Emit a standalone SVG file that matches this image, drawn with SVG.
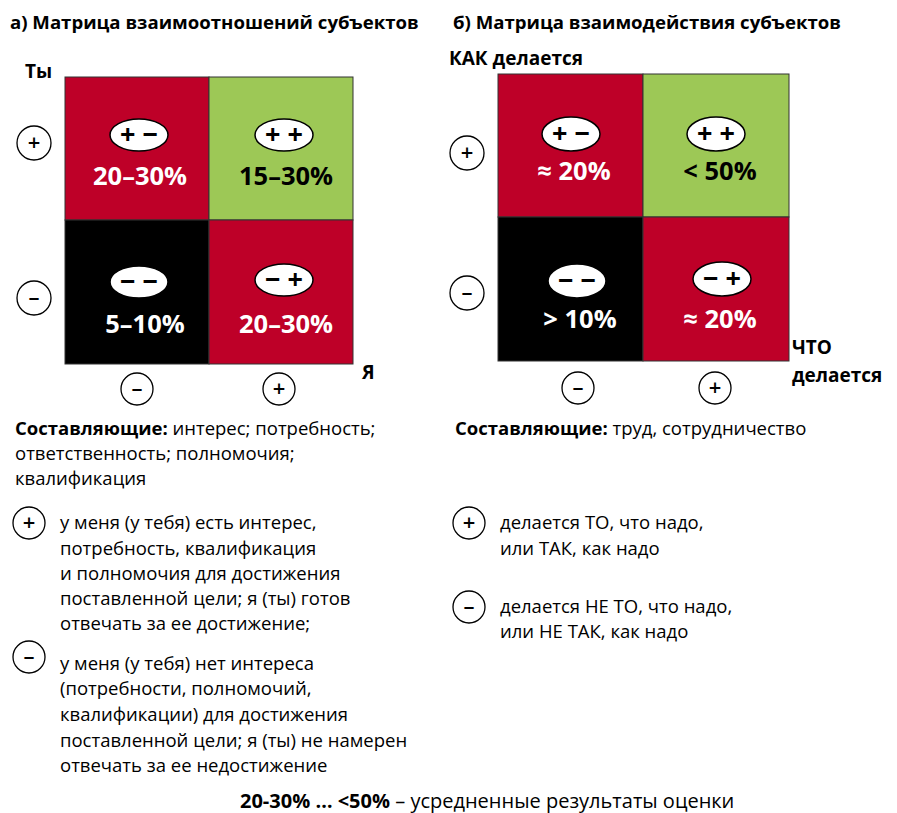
<svg xmlns="http://www.w3.org/2000/svg" width="897" height="813" viewBox="0 0 897 813">
<style>
text{font-family:"Open Sans","Noto Sans","DejaVu Sans",sans-serif;fill:#000}
.t{font-size:18.6px;font-weight:bold}
.ax{font-size:19px;font-weight:bold}
.red{fill:#BE0028;stroke:#333;stroke-width:1}
.grn{fill:#9DC856;stroke:#333;stroke-width:1}
.blk{fill:#000;stroke:#333;stroke-width:1}
.ell{fill:#fff;stroke:#000;stroke-width:1.5}
.sg{font-size:27px;font-weight:bold;text-anchor:middle}
.pc{font-size:25.5px;font-weight:bold;text-anchor:middle}
.w{fill:#fff}
.c{fill:#fff;stroke:#000;stroke-width:1.3}
.cs{font-size:22px;font-weight:600;text-anchor:middle}
.b{font-size:18.5px}
.bb{font-weight:bold}
.ft{font-size:20px}
</style>

<text class="t" x="10" y="29">а) Матрица взаимоотношений субъектов</text>
<text class="t" x="453" y="29">б) Матрица взаимодействия субъектов</text>

<g id="matrixA">
  <text class="ax" x="25" y="78">Ты</text>
  <g id="a-pm">
    <rect class="red" x="65" y="77" width="144" height="143"/>
    <ellipse class="ell" cx="139" cy="135" rx="29" ry="16"/>
    <text class="sg" x="139" y="144">+ −</text>
    <text class="pc w" x="140" y="185">20–30%</text>
  </g>
  <g id="a-pp">
    <rect class="grn" x="209" y="77" width="144" height="143"/>
    <ellipse class="ell" cx="284" cy="135" rx="29" ry="16"/>
    <text class="sg" x="284" y="144">+ +</text>
    <text class="pc" x="286" y="185">15–30%</text>
  </g>
  <g id="a-mm">
    <rect class="blk" x="65" y="220" width="144" height="144"/>
    <ellipse class="ell" cx="139" cy="282" rx="29" ry="16"/>
    <text class="sg" x="139" y="291">− −</text>
    <text class="pc w" x="145" y="333">5–10%</text>
  </g>
  <g id="a-mp">
    <rect class="red" x="209" y="220" width="144" height="144"/>
    <ellipse class="ell" cx="284" cy="280" rx="29" ry="16"/>
    <text class="sg" x="284" y="289">− +</text>
    <text class="pc w" x="286" y="333">20–30%</text>
  </g>
  <g id="a-axis-y-plus"><circle class="c" cx="34" cy="143" r="17"/><text class="cs" x="34" y="150">+</text></g>
  <g id="a-axis-y-minus"><circle class="c" cx="34" cy="298" r="17"/><text class="cs" x="34" y="305">–</text></g>
  <g id="a-axis-x-minus"><circle class="c" cx="137" cy="389" r="16"/><text class="cs" x="137" y="396">–</text></g>
  <g id="a-axis-x-plus"><circle class="c" cx="279" cy="389" r="16"/><text class="cs" x="279" y="396">+</text></g>
  <text class="ax" x="362" y="379">Я</text>
</g>

<g id="matrixB">
  <text class="ax" x="449" y="65">КАК делается</text>
  <g id="b-pm">
    <rect class="red" x="498" y="74" width="145" height="143"/>
    <ellipse class="ell" cx="571" cy="134" rx="29" ry="17"/>
    <text class="sg" x="571" y="143">+ −</text>
    <text class="pc w" x="574" y="180">≈ 20%</text>
  </g>
  <g id="b-pp">
    <rect class="grn" x="643" y="74" width="146" height="143"/>
    <ellipse class="ell" cx="716" cy="134" rx="29" ry="17"/>
    <text class="sg" x="716" y="143">+ +</text>
    <text class="pc" x="720" y="180">&lt; 50%</text>
  </g>
  <g id="b-mm">
    <rect class="blk" x="498" y="217" width="145" height="144"/>
    <ellipse class="ell" cx="577" cy="281" rx="29" ry="17"/>
    <text class="sg" x="577" y="290">− −</text>
    <text class="pc w" x="580" y="328">&gt; 10%</text>
  </g>
  <g id="b-mp">
    <rect class="red" x="643" y="217" width="146" height="144"/>
    <ellipse class="ell" cx="722" cy="279" rx="29" ry="17"/>
    <text class="sg" x="722" y="288">− +</text>
    <text class="pc w" x="720" y="328">≈ 20%</text>
  </g>
  <g id="b-axis-y-plus"><circle class="c" cx="467" cy="153" r="17"/><text class="cs" x="467" y="160">+</text></g>
  <g id="b-axis-y-minus"><circle class="c" cx="467" cy="293" r="17"/><text class="cs" x="467" y="300">–</text></g>
  <g id="b-axis-x-minus"><circle class="c" cx="578" cy="388" r="16"/><text class="cs" x="578" y="395">–</text></g>
  <g id="b-axis-x-plus"><circle class="c" cx="715" cy="388" r="16"/><text class="cs" x="715" y="395">+</text></g>
  <text class="ax" x="792" y="354">ЧТО</text>
  <text class="ax" x="792" y="382">делается</text>
</g>

<g id="legendA">
  <text class="b" x="15" y="435"><tspan class="bb">Составляющие:</tspan> интерес; потребность;</text>
  <text class="b" x="15" y="460">ответственность; полномочия;</text>
  <text class="b" x="15" y="485">квалификация</text>
  <g id="legA-plus"><circle class="c" cx="29" cy="523" r="16"/><text class="cs" x="29" y="530">+</text></g>
  <text class="b" x="60" y="529">у меня (у тебя) есть интерес,</text>
  <text class="b" x="60" y="555">потребность, квалификация</text>
  <text class="b" x="60" y="580">и полномочия для достижения</text>
  <text class="b" x="60" y="605">поставленной цели; я (ты) готов</text>
  <text class="b" x="60" y="630">отвечать за ее достижение;</text>
  <g id="legA-minus"><circle class="c" cx="29" cy="657" r="16"/><text class="cs" x="29" y="664">–</text></g>
  <text class="b" x="60" y="670">у меня (у тебя) нет интереса</text>
  <text class="b" x="60" y="695">(потребности, полномочий,</text>
  <text class="b" x="60" y="721">квалификации) для достижения</text>
  <text class="b" x="60" y="747">поставленной цели; я (ты) не намерен</text>
  <text class="b" x="60" y="772">отвечать за ее недостижение</text>
</g>

<g id="legendB">
  <text class="b" x="455" y="435"><tspan class="bb">Составляющие:</tspan> труд, сотрудничество</text>
  <g id="legB-plus"><circle class="c" cx="469" cy="523" r="16"/><text class="cs" x="469" y="530">+</text></g>
  <text class="b" x="500" y="529">делается ТО, что надо,</text>
  <text class="b" x="500" y="555">или ТАК, как надо</text>
  <g id="legB-minus"><circle class="c" cx="469" cy="607" r="16"/><text class="cs" x="469" y="614">–</text></g>
  <text class="b" x="500" y="613">делается НЕ ТО, что надо,</text>
  <text class="b" x="500" y="638">или НЕ ТАК, как надо</text>
</g>

<text class="ft" x="240" y="808"><tspan class="bb">20-30% … &lt;50%</tspan> – усредненные результаты оценки</text>
</svg>
